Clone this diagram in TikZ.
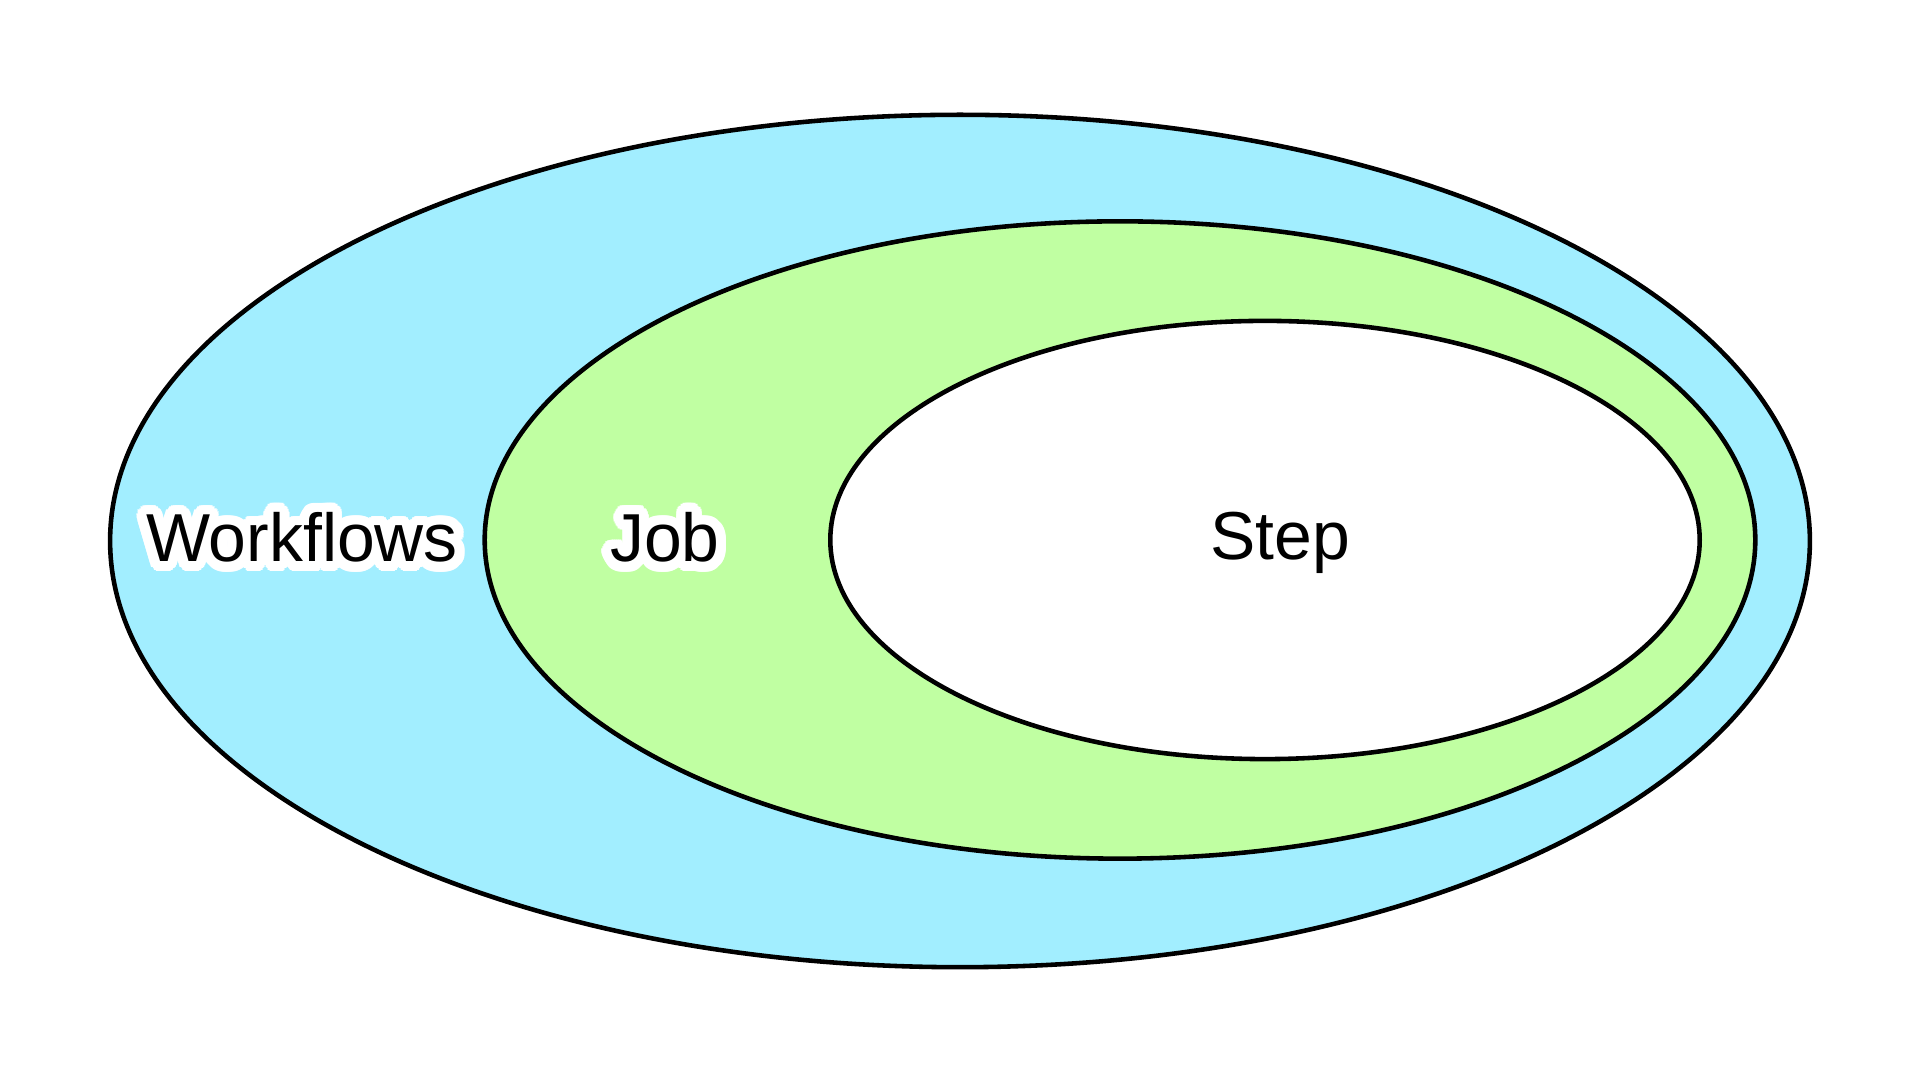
\documentclass[tikz,border=0pt]{standalone}
\usepackage{fontspec}
\setmainfont{Liberation Sans}
\usepackage{contour}
\contourlength{2.8pt}
\contournumber{32}
\definecolor{WorkflowFill}{HTML}{A2EEFF}
\definecolor{JobFill}{HTML}{C0FFA2}
\usetikzlibrary{positioning, shapes.geometric}

\begin{document}
\begin{tikzpicture}[x=0.01cm, y=-0.01cm,
  set/.style={ellipse, draw=black, line width=1.3pt, inner sep=0pt},
  lbl/.style={font=\fontsize{19.3}{21}\selectfont, text=black, anchor=base, inner sep=0pt},
]
  \useasboundingbox (0,0) rectangle (1920,1080);

  \node[set, fill=WorkflowFill, minimum width=1699pt*0.2845, minimum height=852pt*0.2845] (workflows) at (960,541) {};
  \node[set, fill=JobFill, minimum width=1270pt*0.2845, minimum height=637pt*0.2845] (job) at (1120,540) {};
  \node[set, fill=white, minimum width=869pt*0.2845, minimum height=438pt*0.2845] (stepset) at (1265,540) {};

  \node[lbl] (workflowsl) at (302,562) {\contour{white}{Workflows}};
  \node[lbl] (jobl) at (665,562) {\contour{white}{Job}};
  \node[lbl] (stepl) at (1280,560) {Step};
\end{tikzpicture}
\end{document}
